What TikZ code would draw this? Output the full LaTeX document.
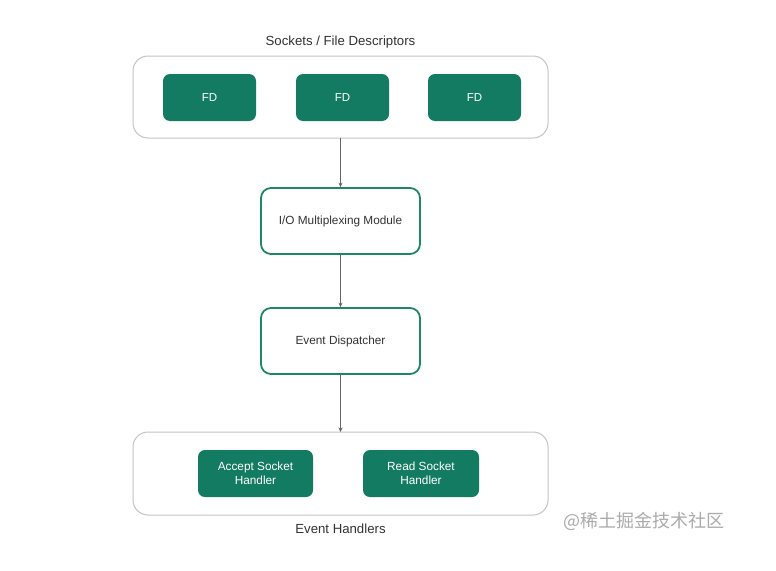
\documentclass[tikz,border=0pt]{standalone}
\usepackage{fontspec}
\setmainfont{Liberation Sans}
\newfontfamily\cjk{Noto Sans CJK SC}
\usetikzlibrary{arrows.meta}
\definecolor{fdgreen}{HTML}{137B62}
\definecolor{edgegreen}{HTML}{1E8767}
\definecolor{boxgray}{HTML}{C4C4C4}
\definecolor{txt}{HTML}{333333}
\definecolor{arr}{HTML}{666666}
\tikzset{
  container/.style={draw=boxgray, line width=1pt, rounded corners=15pt, fill=white},
  fdbox/.style={fill=fdgreen, rounded corners=7pt, text=white, font=\fontsize{11.5}{13}\selectfont, align=center},
  modbox/.style={draw=edgegreen, line width=1.8pt, rounded corners=10pt, fill=white, text=txt, font=\fontsize{11.8}{14}\selectfont, align=center},
  lbl/.style={text=txt, font=\fontsize{13.2}{15}\selectfont},
  conn/.style={draw=arr, line width=0.7pt, -{Stealth[length=4.5pt,width=4pt]}}
}
\begin{document}
\begin{tikzpicture}[x=1pt,y=-1pt]
\useasboundingbox[fill=white] (0,0) rectangle (776,570);
% top container
\path[container] (133,56) rectangle (548,138);
\coordinate (topc) at (340.5,138);
\node[lbl] (toplbl) at (340.5,42) {Sockets / File Descriptors};
\node[fdbox, minimum width=93pt, minimum height=47pt] (fd1) at (209.5,97.5) {FD};
\node[fdbox, minimum width=93pt, minimum height=47pt] (fd2) at (342.5,97.5) {FD};
\node[fdbox, minimum width=93pt, minimum height=47pt] (fd3) at (474.5,97.5) {FD};
% modules
\node[modbox, minimum width=159pt, minimum height=66pt] (io) at (340.5,221) {I/O Multiplexing Module};
\node[modbox, minimum width=159pt, minimum height=66pt] (ed) at (340.5,341) {Event Dispatcher};
% bottom container
\path[container] (133,432) rectangle (548,515);
\coordinate (botc) at (340.5,432);
\node[fdbox, minimum width=115pt, minimum height=47pt, font=\fontsize{11.8}{14}\selectfont] (acc) at (255.5,473.5) {Accept Socket\\Handler};
\node[fdbox, minimum width=116pt, minimum height=47pt, font=\fontsize{11.8}{14}\selectfont] (rd) at (421,473.5) {Read Socket\\Handler};
\node[lbl] (botlbl) at (340.5,529) {Event Handlers};
% connectors
\draw[conn] (topc) -- (io.north);
\draw[conn] (io.south) -- (ed.north);
\draw[conn] (ed.south) -- (botc);
% watermark
\node[text=black!33, font=\cjk\fontsize{18}{20}\selectfont, anchor=west, inner sep=0pt] (wm) at (563,521) {@稀土掘金技术社区};
\end{tikzpicture}
\end{document}
